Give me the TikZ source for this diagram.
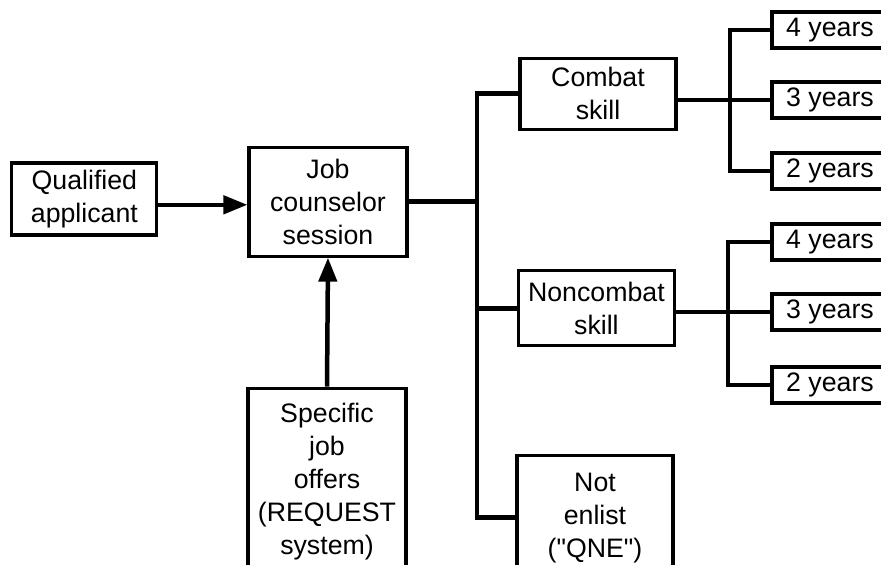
\documentclass[tikz,border=0pt]{standalone}
\usepackage{fontspec}
\setmainfont{Liberation Sans}[Ligatures=TeXOff]
\usetikzlibrary{arrows.meta, positioning, calc}

\begin{document}
\begin{tikzpicture}[
    caixa/.style={
        draw=black,
        line width=2.2pt,
        minimum width=3.9cm,
        align=center,
        inner sep=2pt,
        font=\fontsize{19}{23.5}\selectfont
    },
    anos/.style={
        caixa,
        minimum width=2.9cm,
        minimum height=0.9cm
    },
    linha/.style={
        line width=3.2pt
    },
    seta/.style={
        linha,
        -{Triangle[length=0.6cm, width=0.45cm]}
    }
]

\useasboundingbox (0,0) rectangle (22.025,-14.1);
\clip (0,0) rectangle (22.025,-14.1);

% =================================================
% ENTRADA
% =================================================

\node[caixa, minimum width=3.625cm, minimum height=1.8cm]
    (qual) at (2.11,-4.975)
    {Qualified\\applicant};

\node[caixa, minimum width=3.95cm, minimum height=2.725cm]
    (job) at (8.2,-5.04)
    {Job\\counselor\\session};

\node[caixa, minimum width=3.95cm, minimum height=4.675cm]
    (offers) at (8.175,-12.04)
    {Specific\\job\\offers\\(REQUEST\\system)};

\draw[seta] (qual.east |- 0,-5.12) -- (job.west |- 0,-5.12);
\draw[seta] (offers.north) -- (job.south);


% =================================================
% DECISAO
% =================================================

\node[caixa, minimum height=1.775cm]
    (combat) at (14.95,-2.34)
    {Combat\\skill};

\node[caixa, minimum height=1.875cm]
    (noncombat) at (14.91,-7.71)
    {Noncombat\\skill};

\node[caixa, minimum height=3.125cm]
    (notenl) at (14.875,-12.94)
    {Not\\enlist\\("QNE")};

\coordinate (tronco) at (11.925,0);

% Ramos
\draw[linha] (job.east) -- (job.east -| tronco);
\draw[linha] (combat.west) -- (combat.west -| tronco)
    -- (tronco |- notenl.west) -- (notenl.west);
\draw[linha] (tronco |- noncombat.west) -- (noncombat.west);


% =================================================
% TEMPO DE SERVICO
% =================================================

\node[anos] (c4) at (20.75,-0.75) {4 years};
\node[anos] (c3) at (20.75,-2.5)  {3 years};
\node[anos] (c2) at (20.75,-4.275) {2 years};

\node[anos] (n4) at (20.75,-6.05) {4 years};
\node[anos] (n3) at (20.75,-7.8)  {3 years};
\node[anos] (n2) at (20.75,-9.625) {2 years};

\coordinate (cdiv) at (18.25,0);
\coordinate (ndiv) at (18.2,0);

\draw[linha] (combat.east |- c3.west) -- (c3.west);
\draw[linha] (c4.west) -- (c4.west -| cdiv)
    -- (c2.west -| cdiv) -- (c2.west);

\draw[linha] (noncombat.east |- n3.west) -- (n3.west);
\draw[linha] (n4.west) -- (n4.west -| ndiv)
    -- (n2.west -| ndiv) -- (n2.west);

\end{tikzpicture}
\end{document}
